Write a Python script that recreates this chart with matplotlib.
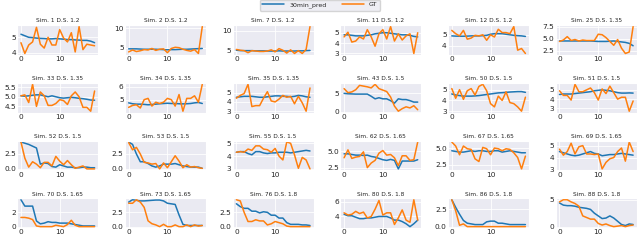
import numpy as np
import matplotlib
matplotlib.use('Agg')
import matplotlib.pyplot as plt
import seaborn as sns

sns.set_style('darkgrid')

titles = ['Sim. 1 D.S. 1.2', 'Sim. 2 D.S. 1.2', 'Sim. 7 D.S. 1.2', 'Sim. 11 D.S. 1.2',
          'Sim. 12 D.S. 1.2', 'Sim. 25 D.S. 1.35',
          'Sim. 33 D.S. 1.35', 'Sim. 34 D.S. 1.35', 'Sim. 35 D.S. 1.35', 'Sim. 43 D.S. 1.5',
          'Sim. 50 D.S. 1.5', 'Sim. 51 D.S. 1.5',
          'Sim. 52 D.S. 1.5', 'Sim. 53 D.S. 1.5', 'Sim. 55 D.S. 1.5', 'Sim. 62 D.S. 1.65',
          'Sim. 67 D.S. 1.65', 'Sim. 69 D.S. 1.65',
          'Sim. 70 D.S. 1.65', 'Sim. 73 D.S. 1.65', 'Sim. 76 D.S. 1.8', 'Sim. 80 D.S. 1.8',
          'Sim. 86 D.S. 1.8', 'Sim. 88 D.S. 1.8']

# 30min_pred series, one per panel
pred = [
    [5.2, 5.1, 5.0, 4.98, 4.95, 4.93, 4.92, 4.9, 4.9, 4.92, 4.9, 4.88, 4.85, 4.85, 4.83, 4.82, 4.8, 4.8, 4.75, 4.65],
    [4.7, 4.7, 4.7, 4.65, 4.6, 4.6, 4.6, 4.6, 4.55, 4.5, 4.45, 4.5, 4.5, 4.55, 4.6, 4.6, 4.65, 4.7, 4.75, 4.8],
    [5.1, 5.0, 5.0, 5.0, 5.0, 4.95, 4.95, 4.95, 4.9, 4.9, 4.9, 4.95, 4.9, 4.9, 4.9, 4.9, 4.95, 4.95, 5.0, 5.05],
    [4.8, 4.8, 4.75, 4.7, 4.7, 4.7, 4.75, 4.8, 4.9, 4.95, 5.0, 5.0, 4.95, 4.9, 4.85, 4.8, 4.8, 4.75, 4.65, 4.6],
    [4.9, 4.88, 4.87, 4.87, 4.88, 4.9, 4.9, 4.9, 4.92, 4.95, 5.05, 5.1, 5.1, 5.1, 5.05, 5.0, 4.95, 4.92, 4.9, 4.85],
    [4.5, 4.5, 4.5, 4.5, 4.5, 4.5, 4.5, 4.5, 4.5, 4.45, 4.4, 4.4, 4.4, 4.45, 4.5, 4.4, 4.3, 4.2, 4.0, 3.5],
    [5.05, 5.03, 5.05, 5.08, 5.1, 5.1, 5.05, 5.0, 5.05, 5.0, 4.95, 4.93, 4.95, 4.97, 4.95, 4.92, 4.9, 4.87, 4.83, 4.82],
    [4.75, 4.68, 4.65, 4.65, 4.63, 4.6, 4.62, 4.65, 4.68, 4.7, 4.72, 4.7, 4.7, 4.68, 4.67, 4.68, 4.7, 4.75, 4.78, 4.7],
    [4.5, 4.55, 4.6, 4.6, 4.6, 4.55, 4.5, 4.5, 4.55, 4.6, 4.65, 4.65, 4.6, 4.6, 4.55, 4.6, 4.7, 4.65, 4.55, 4.5],
    [5.0, 4.9, 4.85, 4.8, 4.8, 4.8, 4.8, 4.2, 3.5, 3.8, 3.5, 3.5, 3.0, 2.3, 3.5, 3.3, 3.3, 3.0, 2.6, 2.6],
    [4.6, 4.5, 4.45, 4.4, 4.4, 4.4, 4.42, 4.45, 4.5, 4.55, 4.6, 4.65, 4.7, 4.72, 4.75, 4.78, 4.8, 4.82, 4.82, 4.75],
    [4.5, 4.55, 4.55, 4.55, 4.6, 4.65, 4.7, 4.75, 4.8, 4.9, 4.95, 5.0, 4.95, 4.9, 4.8, 4.7, 4.65, 4.65, 4.67, 4.65],
    [4.5, 4.3, 4.1, 3.8, 3.5, 0.8, 1.0, 0.9, 0.4, 0.3, 0.7, 0.5, 0.3, 0.3, 0.2, 0.2, 0.3, 0.3, 0.2, 0.2],
    [4.5, 4.1, 2.5, 1.2, 1.2, 0.9, 0.5, 0.3, 0.5, 0.8, 0.8, 0.8, 0.9, 0.7, 0.5, 0.4, 0.3, 0.3, 0.3, 0.1],
    [4.3, 4.35, 4.35, 4.2, 4.1, 4.35, 4.35, 4.25, 4.2, 4.25, 4.25, 4.3, 4.3, 4.3, 4.25, 4.3, 4.35, 4.4, 4.45, 4.4],
    [4.6, 4.6, 4.5, 4.4, 4.4, 4.35, 4.4, 4.2, 4.1, 3.9, 3.7, 3.6, 3.75, 3.6, 2.3, 3.5, 3.5, 3.5, 3.5, 3.7],
    [4.6, 4.5, 4.4, 4.4, 4.5, 4.6, 4.5, 4.6, 4.6, 4.5, 4.5, 4.6, 4.6, 4.4, 4.5, 4.6, 4.5, 4.4, 4.3, 4.3],
    [4.5, 4.4, 4.3, 4.2, 4.15, 4.2, 4.3, 4.4, 4.5, 4.35, 4.3, 4.15, 4.2, 4.25, 4.25, 4.3, 4.35, 4.3, 4.25, 4.2],
    [3.8, 2.9, 2.9, 2.9, 0.8, 0.4, 0.5, 0.7, 0.6, 0.6, 0.5, 0.5, 0.5, 0.4, 0.3, 0.2, 0.1, 0.1, 0.1, 0.1],
    [4.2, 4.6, 4.5, 4.4, 4.4, 4.45, 4.5, 4.55, 4.55, 4.4, 4.0, 3.9, 3.8, 2.0, 0.4, 0.2, 0.2, 0.2, 0.2, 0.2],
    [4.0, 3.5, 3.2, 3.2, 2.7, 2.7, 2.4, 2.6, 2.5, 2.0, 2.0, 1.5, 1.5, 0.7, 0.4, 0.4, 0.4, 0.3, 0.3, 0.2],
    [4.3, 4.1, 4.1, 3.9, 3.7, 3.7, 3.8, 3.8, 3.9, 4.0, 4.0, 4.0, 3.8, 3.5, 3.5, 3.3, 3.0, 2.6, 3.0, 3.5],
    [3.9, 2.8, 1.8, 0.9, 0.5, 0.4, 0.3, 0.3, 0.3, 0.7, 0.8, 0.8, 0.5, 0.5, 0.4, 0.3, 0.3, 0.3, 0.3, 0.3],
    [4.4, 4.0, 3.9, 3.9, 3.8, 3.6, 3.5, 3.4, 3.2, 2.5, 2.0, 1.5, 1.6, 2.0, 1.6, 1.0, 0.4, 0.2, 0.5, 0.4],
]

# GT series, one per panel
gt = [
    [4.65, 3.95, 4.5, 4.7, 5.65, 4.55, 4.3, 5.0, 4.5, 4.5, 5.5, 4.95, 4.7, 5.3, 4.05, 5.7, 4.2, 4.55, 4.5, 4.45],
    [3.9, 4.4, 4.0, 4.2, 4.5, 4.4, 4.8, 4.3, 4.6, 4.7, 3.7, 4.8, 5.1, 5.0, 4.6, 4.3, 4.1, 4.5, 3.5, 10.5],
    [5.3, 5.1, 5.0, 4.5, 5.0, 4.9, 4.8, 4.8, 4.9, 5.2, 4.7, 5.5, 5.1, 4.4, 5.2, 4.3, 5.0, 4.3, 5.3, 11.0],
    [4.6, 5.05, 4.1, 4.2, 4.6, 4.4, 5.3, 4.6, 3.7, 4.9, 5.3, 4.4, 5.6, 4.2, 4.9, 4.3, 4.7, 4.9, 3.0, 5.0],
    [5.4, 5.1, 4.9, 5.4, 4.6, 4.7, 4.95, 4.9, 5.0, 4.5, 5.0, 4.8, 5.5, 5.2, 5.2, 5.1, 5.75, 3.6, 3.75, 3.3],
    [4.4, 4.7, 5.4, 4.6, 4.8, 4.5, 4.7, 4.6, 4.6, 4.6, 5.9, 5.8, 5.2, 4.4, 3.6, 4.8, 3.0, 1.9, 2.2, 7.5],
    [5.05, 5.1, 4.7, 5.65, 4.5, 5.25, 5.05, 4.55, 4.55, 4.65, 4.85, 4.8, 4.6, 5.05, 5.25, 5.0, 4.45, 4.45, 4.25, 5.3],
    [4.4, 4.55, 4.6, 4.35, 5.0, 5.1, 4.5, 4.8, 4.7, 4.8, 5.1, 5.0, 4.5, 5.4, 4.1, 5.1, 5.1, 5.3, 4.8, 6.2],
    [4.4, 4.7, 4.9, 5.9, 3.5, 3.6, 3.6, 4.4, 5.1, 4.1, 4.0, 4.3, 4.7, 4.5, 4.6, 3.8, 4.6, 3.9, 3.0, 5.5],
    [6.3, 5.2, 5.4, 6.0, 7.2, 7.0, 6.8, 6.5, 7.5, 6.3, 5.9, 5.5, 4.0, 1.5, 0.1, 0.8, 1.3, 1.0, 1.6, 0.5],
    [5.1, 4.2, 5.0, 4.1, 4.9, 5.1, 4.5, 5.3, 5.5, 4.9, 3.7, 3.4, 4.4, 4.0, 4.8, 3.8, 3.7, 3.4, 3.0, 4.3],
    [4.9, 4.4, 4.4, 3.9, 5.6, 4.8, 4.8, 5.0, 5.2, 4.7, 3.9, 5.1, 4.6, 5.4, 4.7, 4.0, 4.2, 4.2, 2.7, 3.8],
    [4.5, 1.8, 0.3, 1.2, 0.8, 0.2, 1.1, 1.1, 0.5, 2.1, 1.3, 0.7, 1.4, 0.7, 0.1, 0.3, 0.5, 0.0, 0.0, 0.0],
    [4.4, 3.2, 3.6, 2.5, 1.1, 1.0, 0.8, 0.9, 0.0, 1.0, 0.2, 1.2, 2.2, 1.3, 0.2, 0.7, 0.3, 0.4, 0.2, 0.1],
    [4.3, 4.35, 4.3, 4.55, 4.45, 4.8, 4.8, 4.55, 4.5, 4.3, 4.6, 4.0, 3.7, 5.1, 5.0, 4.1, 3.05, 3.9, 3.7, 3.0],
    [4.0, 5.2, 3.9, 4.1, 4.2, 4.9, 2.5, 3.2, 3.6, 4.7, 5.1, 4.4, 4.5, 4.0, 2.8, 4.3, 4.3, 3.6, 3.7, 6.4],
    [5.9, 5.3, 4.0, 5.3, 4.9, 4.8, 3.4, 3.0, 5.1, 4.9, 4.0, 5.0, 4.9, 4.6, 4.9, 4.8, 4.3, 3.6, 1.9, 3.8],
    [4.7, 4.2, 4.5, 5.2, 4.3, 4.9, 5.0, 4.3, 4.3, 4.25, 4.3, 3.05, 3.6, 3.9, 4.0, 4.5, 4.8, 3.7, 5.3, 4.5],
    [1.3, 1.3, 1.2, 1.0, 0.1, 0.0, 0.0, 0.0, 0.0, 0.2, 0.1, 0.0, 0.3, 0.9, 0.2, 0.0, 0.0, 0.0, 0.0, 0.0],
    [4.0, 4.0, 4.6, 4.2, 3.3, 1.0, 0.5, 0.3, 0.0, 0.4, 0.0, 0.0, 0.3, 0.0, 0.0, 0.3, 0.0, 0.3, 0.1, 0.2],
    [4.7, 4.5, 2.5, 0.9, 0.9, 1.2, 1.0, 1.0, 0.3, 0.5, 0.9, 0.7, 0.5, 0.1, 0.0, 0.0, 0.0, 0.0, 0.0, 0.0],
    [4.5, 4.2, 4.3, 4.7, 4.4, 4.6, 3.8, 4.0, 5.0, 6.2, 4.2, 4.5, 4.5, 2.9, 3.8, 4.9, 3.5, 3.2, 6.3, 3.5],
    [3.9, 2.3, 0.2, 0.4, 0.0, 0.0, 0.0, 0.0, 0.0, 0.0, 0.0, 0.0, 0.0, 0.0, 0.0, 0.0, 0.0, 0.0, 0.0, 0.0],
    [4.6, 5.0, 5.0, 4.6, 4.3, 3.8, 2.0, 1.7, 1.4, 1.4, 0.6, 0.3, 0.5, 0.2, 0.0, 0.1, 0.2, 0.0, 0.2, 0.3],
]

yticks = [
    [4, 5], [5, 10], [5, 10], [3, 4, 5], [4, 5], [2.5, 5.0, 7.5],
    [4.5, 5.0, 5.5], [5, 6], [3, 4, 5], [0, 5], [3, 4, 5], [3, 4, 5],
    [0.0, 2.5], [0.0, 2.5], [3, 4, 5], [2.5, 5.0], [2.5, 5.0], [3, 4, 5],
    [0, 2], [0.0, 2.5], [0.0, 2.5], [4, 6], [0.0, 2.5], [0, 5],
]
xticks = [0, 10]

fig, axes = plt.subplots(4, 6, figsize=(6.4, 2.4), dpi=100)
fig.subplots_adjust(left=0.027, right=0.995, top=0.895, bottom=0.05, wspace=0.33, hspace=0.95)

for i, ax in enumerate(axes.flat):
    x = np.arange(len(pred[i]))
    l1, = ax.plot(x, pred[i], color='#1f77b4', lw=1.1, label='30min_pred')
    l2, = ax.plot(x, gt[i], color='#ff7f0e', lw=1.1, label='GT')
    ax.set_title(titles[i], fontsize=4.2, pad=2)
    ax.set_xticks(xticks)
    ax.set_yticks(yticks[i])
    ax.tick_params(labelsize=5.3, pad=1, length=0)
    ax.grid(lw=0.6)

fig.legend([l1, l2], ['30min_pred', 'GT'], loc='upper center', ncol=2,
           bbox_to_anchor=(0.5, 1.015), fontsize=4.5, handlelength=3.5, columnspacing=2.5)

fig.savefig('out.png', dpi=100)
